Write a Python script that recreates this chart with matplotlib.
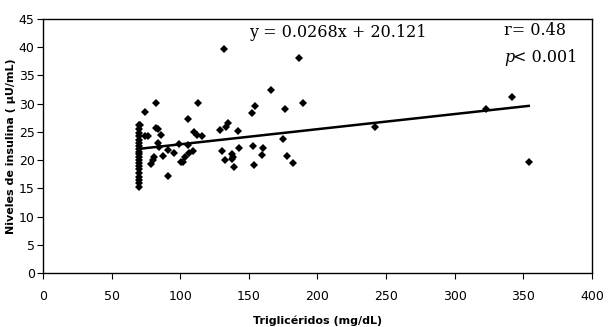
import matplotlib
matplotlib.use("Agg")
import matplotlib.pyplot as plt
import numpy as np

# data (triglycerides mg/dL, insulin uU/mL)
trig = [70, 70, 70, 70, 70, 70, 70, 70, 70, 70, 70, 70, 70, 70, 70, 70, 70, 70, 70, 70,
        131.6, 186.8, 166, 82, 113, 189.4, 74.3, 154.7, 152.5, 176.5, 105.6, 70.7,
        82.3, 83.5, 134.8, 133.5, 129, 142, 110.2, 112, 115.8, 86, 76.7, 74,
        175, 84, 99, 105.4, 84.5, 91.3, 130.6, 153.2, 160.3, 143, 109, 95.2, 87.2,
        137.7, 138.3, 137.5, 159.3, 177.5, 106.4, 103.7, 100.8, 102.2,
        81, 80, 78.5, 132.4, 139.4, 154, 182.2, 90.8,
        341.5, 322.8, 242, 353.9]
insulina = [26.3, 25.5, 24.8, 24.2, 23.6, 23.0, 22.5, 22.0, 21.5, 21.0, 20.5, 20.0, 19.5, 19.0, 18.5, 17.8, 17.0, 16.5, 16.0, 15.2,
            39.7, 38.0, 32.4, 30.1, 30.1, 30.1, 28.6, 29.6, 28.3, 29.0, 27.2, 26.3,
            25.7, 25.5, 26.6, 25.9, 25.3, 25.2, 25.0, 24.5, 24.3, 24.5, 24.2, 24.2,
            23.8, 23.0, 22.8, 22.6, 22.4, 21.8, 21.7, 22.5, 22.2, 22.1, 21.7, 21.3, 20.7,
            21.0, 20.6, 20.2, 20.9, 20.8, 21.2, 20.6, 19.7, 19.7,
            20.5, 20.0, 19.4, 20.1, 18.8, 19.2, 19.5, 17.1,
            31.1, 29.1, 25.8, 19.7]

slope = 0.0268
intercept = 20.121

fig = plt.figure(figsize=(6.08, 3.27), dpi=100)
ax = fig.add_axes([0.0707, 0.165, 0.903, 0.777])

ax.plot(trig, insulina, linestyle="none", marker="D", markersize=4,
        color="black", markeredgewidth=0)

xl = np.array([min(trig), max(trig)])
ax.plot(xl, slope * xl + intercept, color="black", linewidth=1.8)

ax.set_xlim(0, 400)
ax.set_ylim(0, 45)
ax.set_xticks(range(0, 401, 50))
ax.set_yticks(range(0, 46, 5))
ax.tick_params(direction="out", length=4, width=0.8, labelsize=9, colors="black")
ax.tick_params(axis="x", pad=8)
ax.tick_params(axis="y", pad=2)
for s in ax.spines.values():
    s.set_linewidth(1.0)

ax.set_xlabel("Triglicéridos (mg/dL)", fontsize=8, fontweight="bold", labelpad=9)
ax.set_ylabel("Niveles de insulina ( µU/mL)", fontsize=8, fontweight="bold")
ax.yaxis.set_label_coords(-0.05, 0.5)

serif = "DejaVu Serif"
ax.text(150, 42.6, "y = 0.0268x + 20.121", fontsize=11.5, family=serif,
        ha="left", va="center")
ax.text(336, 43.0, "r= 0.48", fontsize=11.5, family=serif, ha="left", va="center")
ax.text(336, 38.2, "p", fontsize=11.5, family=serif, style="italic",
        ha="left", va="center")
ax.text(342.8, 38.2, "< 0.001", fontsize=11.5, family=serif, ha="left", va="center")

fig.savefig("out.png", dpi=100)
